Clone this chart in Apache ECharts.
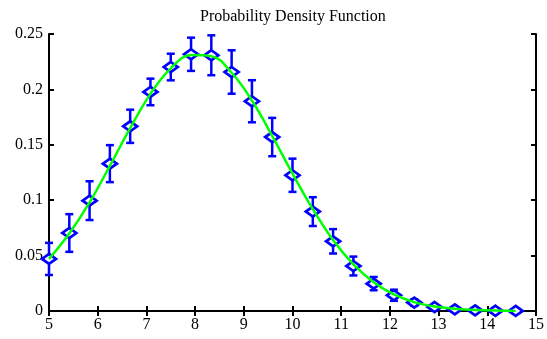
<!DOCTYPE html>
<html>
<head>
<meta charset="utf-8">
<script src="https://cdn.jsdelivr.net/npm/echarts@6/dist/echarts.min.js"></script>
<style>html,body{margin:0;padding:0;background:#fff}#c{width:547px;height:339px}</style>
</head>
<body>
<div id="c"></div>
<script>
var title = 'Probability Density Function';
var xs = [5, 5.417, 5.833, 6.25, 6.667, 7.083, 7.5, 7.917, 8.333, 8.75, 9.167, 9.583, 10, 10.417, 10.833, 11.25, 11.667, 12.083, 12.5, 12.917, 13.333, 13.75, 14.167, 14.583];
var yMeas = [0.047, 0.0704, 0.0996, 0.133, 0.1667, 0.1977, 0.2202, 0.2317, 0.2308, 0.2157, 0.1893, 0.157, 0.1225, 0.0897, 0.0629, 0.0406, 0.0247, 0.0142, 0.0076, 0.0036, 0.0015, 0.0006, 0.0002, 0.0001];
var yErr = [0.0145, 0.017, 0.0175, 0.0167, 0.015, 0.012, 0.012, 0.015, 0.018, 0.0196, 0.019, 0.0173, 0.015, 0.013, 0.011, 0.0085, 0.006, 0.005, 0.003, 0.0015, 0.0007, 0.0003, 0.0001, 0.0001];
var yFit = [0.047, 0.070, 0.098, 0.131, 0.165, 0.196, 0.219, 0.231, 0.230, 0.215, 0.190, 0.158, 0.124, 0.092, 0.064, 0.042, 0.026, 0.015, 0.008, 0.004, 0.002, 0.001, 0.0004, 0.0001];

var font = '"Liberation Serif", "DejaVu Serif", serif';
var blue = '#0000ff';
var axisCommon = {
  axisLine: {show: true, lineStyle: {color: '#000', width: 2}},
  axisTick: {show: true, inside: true, length: 5, lineStyle: {color: '#000', width: 2}},
  splitLine: {show: false}
};
var chart = echarts.init(document.getElementById('c'), null, {renderer: 'canvas'});
var errData = xs.map(function (x, i) { return [x, yMeas[i] - yErr[i], yMeas[i] + yErr[i]]; });
chart.setOption({
  animation: false,
  title: {text: title, left: 195, top: 4,
    textStyle: {fontFamily: font, fontSize: 16, fontWeight: 'normal', color: '#000'}},
  grid: {left: 49, right: 11, top: 34, bottom: 28},
  xAxis: [
    Object.assign({type: 'value', min: 5, max: 15, interval: 1, position: 'bottom',
      axisLabel: {fontFamily: font, fontSize: 16, color: '#000', margin: 6}}, axisCommon),
    Object.assign({type: 'value', min: 5, max: 15, interval: 1, position: 'top',
      axisLabel: {show: false}}, axisCommon)
  ],
  yAxis: [
    Object.assign({type: 'value', min: 0, max: 0.25, interval: 0.05, position: 'left',
      axisLabel: {fontFamily: font, fontSize: 16, color: '#000', margin: 6}}, axisCommon),
    Object.assign({type: 'value', min: 0, max: 0.25, interval: 0.05, position: 'right',
      axisLabel: {show: false}}, axisCommon)
  ],
  series: [
    {
      type: 'custom', z: 1, data: errData,
      renderItem: function (params, api) {
        var x = api.value(0);
        var lo = api.coord([x, api.value(1)]);
        var hi = api.coord([x, api.value(2)]);
        var w = 4;
        var st = {stroke: blue, lineWidth: 2.5};
        return {type: 'group', children: [
          {type: 'line', shape: {x1: lo[0], y1: lo[1], x2: hi[0], y2: hi[1]}, style: st},
          {type: 'line', shape: {x1: lo[0] - w, y1: lo[1], x2: lo[0] + w, y2: lo[1]}, style: st},
          {type: 'line', shape: {x1: hi[0] - w, y1: hi[1], x2: hi[0] + w, y2: hi[1]}, style: st}
        ]};
      }
    },
    {
      type: 'scatter', z: 2, symbol: 'diamond', symbolSize: [14, 10],
      itemStyle: {color: '#fff', borderColor: blue, borderWidth: 2.8, opacity: 1},
      data: xs.map(function (x, i) { return [x, yMeas[i]]; })
    },
    {
      type: 'line', z: 3, smooth: 0.4, showSymbol: false, symbol: 'none',
      lineStyle: {color: '#00ff00', width: 2.5},
      data: xs.map(function (x, i) { return [x, yFit[i]]; })
    }
  ]
});
</script>
</body>
</html>
